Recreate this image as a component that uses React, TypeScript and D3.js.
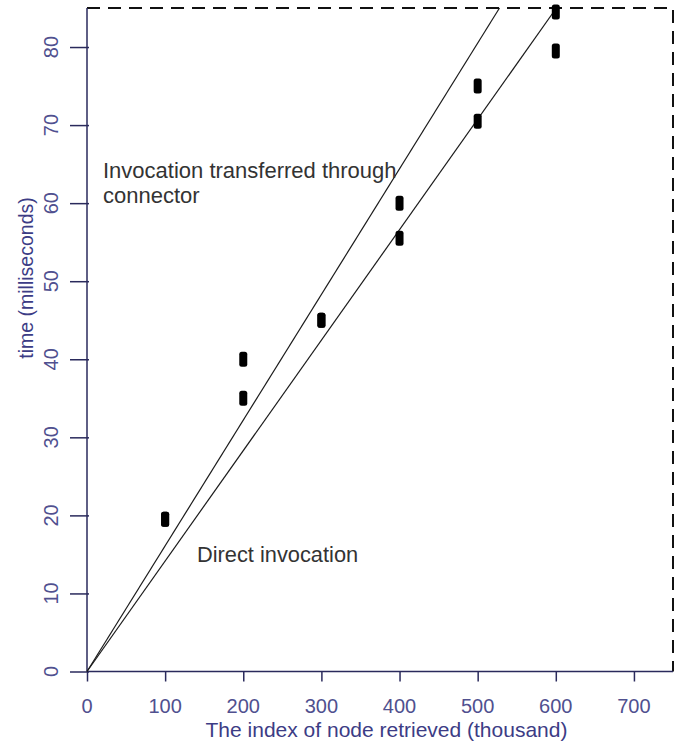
import React, { useRef, useEffect } from 'react';
import * as d3 from 'd3';

// node index (thousand) and measured times (ms)
const nodeIndex = [100, 200, 300, 400, 500, 600];
const connectorTimes = [19.5, 40, 45, 60, 75, 84.5];
const directTimes = [19.5, 35, 45, 55.5, 70.5, 79.5];

// fitted slopes (ms per thousand nodes) of the two lines through the origin
const connectorSlope = 0.161;
const directSlope = 0.1415;

const xTicks = [0, 100, 200, 300, 400, 500, 600, 700];
const yTicks = [0, 10, 20, 30, 40, 50, 60, 70, 80];

const xTitle = 'The index of node retrieved (thousand)';
const yTitle = 'time (milliseconds)';
const connectorLabel = ['Invocation transferred through', 'connector'];
const directLabel = 'Direct invocation';

const App = () => {
  const svgRef = useRef<SVGSVGElement>(null);

  useEffect(() => {
    const svg = d3.select(svgRef.current);
    svg.selectAll('*').remove();

    const W = 681;
    const H = 745;
    const left = 87, right = 673, top = 8, bottom = 671.5;

    const x = d3.scaleLinear().domain([0, 750]).range([left, right]);
    const y = d3.scaleLinear().domain([0, 85]).range([bottom, top]);

    const axisColor = '#2a2a5c';
    const tickText = '#50508f';
    const titleText = '#3c3c85';
    const font = '"Liberation Sans", Arial, sans-serif';

    svg.attr('width', W).attr('height', H);

    // dashed top/right frame
    svg.append('path')
      .attr('d', `M${left},${top}H${right}V${bottom}`)
      .attr('fill', 'none')
      .attr('stroke', '#111')
      .attr('stroke-width', 2)
      .attr('stroke-dasharray', '13,8');

    // x axis
    const xAxis = svg.append('g')
      .attr('transform', `translate(0,${bottom})`)
      .call(d3.axisBottom(x).tickValues(xTicks).tickSize(10).tickSizeOuter(0).tickFormat(() => ''));
    xAxis.select('.domain').attr('stroke', axisColor).attr('stroke-width', 1.5)
      .attr('d', `M${left},0H${right}`);
    xAxis.selectAll('.tick line').attr('stroke', axisColor).attr('stroke-width', 1.5);

    svg.append('g')
      .selectAll('text')
      .data(xTicks)
      .join('text')
      .attr('x', d => x(d))
      .attr('y', 713)
      .attr('text-anchor', 'middle')
      .style('font-family', font)
      .style('font-size', '20px')
      .style('fill', tickText)
      .text(d => d);

    // y axis
    const yAxis = svg.append('g')
      .attr('transform', `translate(${left},0)`)
      .call(d3.axisLeft(y).tickValues(yTicks).tickSize(17).tickSizeOuter(0).tickFormat(() => ''));
    yAxis.select('.domain').attr('stroke', axisColor).attr('stroke-width', 1.5)
      .attr('d', `M0,${top}V${bottom}`);
    yAxis.selectAll('.tick line').attr('stroke', axisColor).attr('stroke-width', 1.5)
      .attr('x2', -17).attr('x1', 2);

    svg.append('g')
      .selectAll('text')
      .data(yTicks)
      .join('text')
      .attr('transform', d => `translate(58,${y(d)}) rotate(-90)`)
      .attr('text-anchor', 'middle')
      .style('font-family', font)
      .style('font-size', '20px')
      .style('fill', tickText)
      .text(d => d);

    // axis titles
    svg.append('text')
      .attr('x', 386.5)
      .attr('y', 737)
      .attr('text-anchor', 'middle')
      .style('font-family', font)
      .style('font-size', '21px')
      .style('fill', titleText)
      .text(xTitle);

    svg.append('text')
      .attr('transform', `translate(33,278) rotate(-90)`)
      .attr('text-anchor', 'middle')
      .style('font-family', font)
      .style('font-size', '19.5px')
      .style('fill', titleText)
      .text(yTitle);

    // fitted lines, clipped at the top of the plot
    const plot = svg.append('g');
    [connectorSlope, directSlope].forEach(s => {
      const xEnd = Math.min(750, 85 / s);
      plot.append('line')
        .attr('x1', x(0)).attr('y1', y(0))
        .attr('x2', x(xEnd)).attr('y2', y(s * xEnd))
        .attr('stroke', '#1a1a1a')
        .attr('stroke-width', 1.2);
    });

    // measured points
    const pts = [
      ...nodeIndex.map((n, i) => ({ n, t: connectorTimes[i] })),
      ...nodeIndex.map((n, i) => ({ n, t: directTimes[i] })),
    ];
    plot.append('g')
      .selectAll('rect')
      .data(pts)
      .join('rect')
      .attr('x', d => x(d.n) - 4)
      .attr('y', d => y(d.t) - 7.5)
      .attr('width', 8)
      .attr('height', 15)
      .attr('rx', 2.5)
      .attr('fill', '#000');

    // annotations
    const ann = svg.append('text')
      .style('font-family', font)
      .style('font-size', '22px')
      .style('fill', '#333');
    ann.selectAll('tspan')
      .data(connectorLabel)
      .join('tspan')
      .attr('x', 103)
      .attr('y', (d, i) => 178 + i * 25)
      .text(d => d);

    svg.append('text')
      .attr('x', 197)
      .attr('y', 561.5)
      .style('font-family', font)
      .style('font-size', '21.8px')
      .style('fill', '#333')
      .text(directLabel);
  }, []);

  return (
    <div style={{ position: 'absolute', left: 0, top: 0, background: '#fff' }}>
      <svg ref={svgRef} style={{ display: 'block' }} />
    </div>
  );
};

export default App;
